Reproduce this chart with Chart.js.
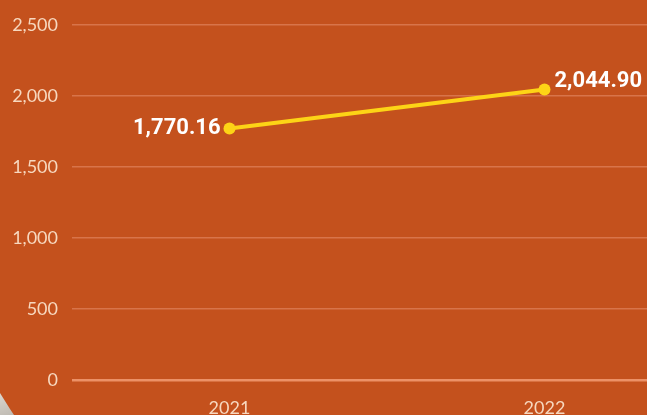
<!DOCTYPE html>
<html>
<head>
<meta charset="utf-8">
<script src="https://cdn.jsdelivr.net/npm/chart.js@4"></script>
<style>
  html, body { margin: 0; padding: 0; overflow: hidden; background: #c4511d; }
  #wrap { position: absolute; left: 0; top: 0; width: 708px; height: 430px; }
  #corner {
    position: absolute; left: 0; top: 390px; width: 20px; height: 25px; pointer-events: none;
    background: linear-gradient(160deg, #dedad3, #bdb8b0);
    clip-path: polygon(0 3px, 5px 11px, 10px 19px, 14px 25px, 0 25px);
  }
</style>
</head>
<body>
<div id="wrap"><canvas id="canvas"></canvas></div>
<div id="corner"></div>
<script>
var years = ['2021', '2022'];
var values = [1770.16, 2044.90];
var valueLabels = ['1,770.16', '2,044.90'];

// value text: first point gets it on the left, last one on the right
var pointLabels = {
  id: 'pointLabels',
  afterDatasetsDraw: function(chart) {
    var ctx = chart.ctx;
    var pts = chart.getDatasetMeta(0).data;
    ctx.save();
    ctx.font = 'bold 22px Roboto, "Liberation Sans", sans-serif';
    ctx.fillStyle = '#ffffff';
    ctx.textBaseline = 'middle';
    ctx.textAlign = 'right';
    ctx.fillText(valueLabels[0], pts[0].x - 9, pts[0].y);
    ctx.textAlign = 'left';
    ctx.fillText(valueLabels[1], pts[1].x + 10, pts[1].y - 8);
    ctx.restore();
  }
};

const ctx = document.getElementById('canvas');

new Chart(ctx, {
  type: 'line',
  data: {
    labels: years,
    datasets: [{
      data: values,
      borderColor: '#fdd416',
      backgroundColor: '#fdd416',
      borderWidth: 4,
      pointRadius: 6,
      pointBorderWidth: 0,
      tension: 0
    }]
  },
  options: {
    responsive: true,
    maintainAspectRatio: false,
    animation: false,
    layout: { padding: { top: 24, right: 0, left: 0, bottom: 0 } },
    plugins: {
      legend: { display: false },
      tooltip: { enabled: false }
    },
    scales: {
      x: {
        offset: true,
        grid: { display: false },
        border: { display: false },
        ticks: {
          color: '#f7d8bf',
          font: { family: 'Lato, "Open Sans", sans-serif', size: 18 },
          padding: 9
        },
        afterFit: function(scale) { scale.height = 50; }
      },
      y: {
        min: 0,
        max: 2500,
        ticks: {
          stepSize: 500,
          color: '#f7d8bf',
          font: { family: 'Lato, "Open Sans", sans-serif', size: 18 },
          padding: 14
        },
        grid: {
          drawTicks: false,
          color: function(c) { return c.tick.value === 0 ? '#ec9167' : '#d8744a'; },
          lineWidth: function(c) { return c.tick.value === 0 ? 2.5 : 1.5; }
        },
        border: { display: false },
        afterFit: function(scale) { scale.width = 72; }
      }
    }
  },
  plugins: [pointLabels]
});
</script>
</body>
</html>
